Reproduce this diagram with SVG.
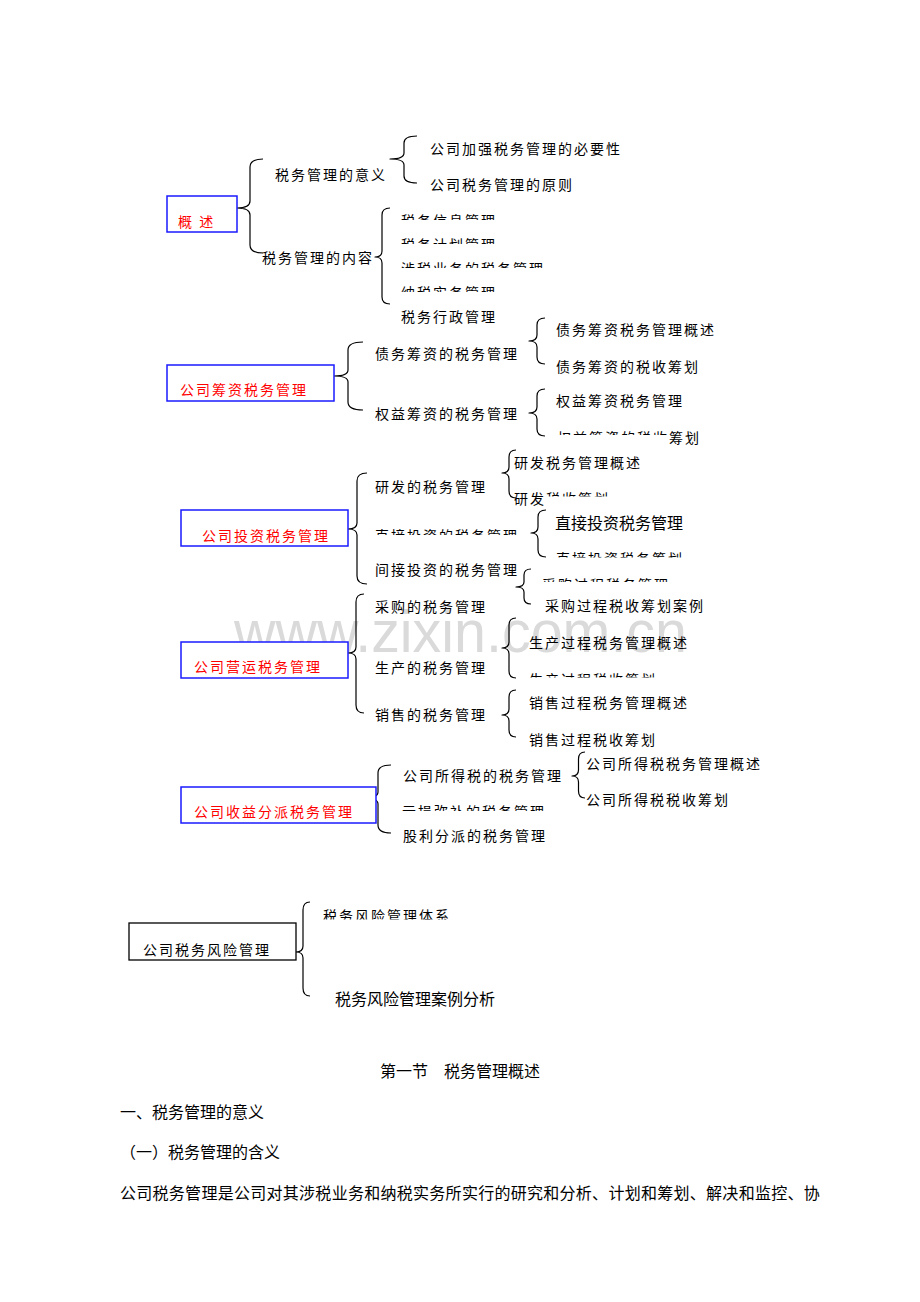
<svg xmlns="http://www.w3.org/2000/svg" width="920" height="1302" viewBox="0 0 920 1302">
<style>
.t{font-family:"Noto Sans CJK SC","Noto Sans CJK JP",sans-serif;font-size:14px;letter-spacing:2px;fill:#000}
.r{fill:#ff0000}
.big{font-size:16px;letter-spacing:0}
.p{font-family:"Noto Sans CJK SC","Noto Sans CJK JP",sans-serif;font-size:16px;letter-spacing:0.28px;fill:#000}
.box{fill:#fff;stroke:#1a1aff;stroke-width:1.5}
.kbox{fill:#fff;stroke:#000;stroke-width:1.3}
.brace{fill:none;stroke:#000;stroke-width:1.2;stroke-linejoin:round}
.wm{font-family:"Liberation Sans",Arial,sans-serif;font-size:60px;fill:#dadada}
</style>
<defs>
<clipPath id="c1"><rect x="390" y="200" width="200" height="20"/></clipPath>
<clipPath id="c2"><rect x="390" y="225" width="200" height="19"/></clipPath>
<clipPath id="c3"><rect x="390" y="250" width="200" height="18"/></clipPath>
<clipPath id="c4"><rect x="390" y="275" width="200" height="17"/></clipPath>
<clipPath id="c5"><rect x="550" y="420" width="200" height="15"/><rect x="667" y="420" width="60" height="40"/></clipPath>
<clipPath id="c6"><rect x="505" y="480" width="200" height="16.5"/><rect x="505" y="480" width="41" height="40"/></clipPath>
<clipPath id="c7"><rect x="370" y="520" width="200" height="15"/></clipPath>
<clipPath id="c8"><rect x="550" y="545" width="200" height="12.5"/></clipPath>
<clipPath id="c9"><rect x="535" y="570" width="200" height="12"/></clipPath>
<clipPath id="c10"><rect x="520" y="665" width="200" height="12.5"/></clipPath>
<clipPath id="c11"><rect x="395" y="795" width="200" height="16"/></clipPath>
<clipPath id="c12"><rect x="315" y="900" width="200" height="19.5"/></clipPath>
</defs>
<rect x="0" y="0" width="920" height="1302" fill="#fff"/>
<text class="wm" x="234" y="652" textLength="453" lengthAdjust="spacingAndGlyphs">www.zixin.com.cn</text>

<g id="connectors">
<path class="brace" d="M263,159 Q250,159 250,167 L250,201 Q250,208 237,208 Q250,208 250,215 L250,245 Q250,253 263,253"/>
<path class="brace" d="M417,136 Q404,136 404,143 L404,153 Q404,159 390,159 Q404,159 404,165 L404,176 Q404,183 417,183"/>
<path class="brace" d="M390,208 Q382,208 382,215 L382,251 Q382,257 375,257 Q382,257 382,263 L382,297 Q382,304 390,304"/>
<path class="brace" d="M363,342 Q348,342 348,350 L348,370 Q348,376 334,376 Q348,376 348,382 L348,402 Q348,410 363,410"/>
<path class="brace" d="M545,318 Q537,318 537,325 L537,335 Q537,341 529,341 Q537,341 537,347 L537,357 Q537,364 545,364"/>
<path class="brace" d="M545,389 Q537,389 537,396 L537,407 Q537,413 529,413 Q537,413 537,419 L537,429 Q537,436 545,436"/>
<path class="brace" d="M367,473 Q357,473 357,481 L357,523 Q357,529 348,529 Q357,529 357,535 L357,576 Q357,584 367,584"/>
<path class="brace" d="M516,450 Q509,450 509,457 L509,467 Q509,473 502,473 Q509,473 509,479 L509,491 Q509,498 516,498"/>
<path class="brace" d="M546,510 Q538,510 538,517 L538,527 Q538,533 531,533 Q538,533 538,539 L538,550 Q538,557 546,557"/>
<path class="brace" d="M531,569 Q524,569 524,575 L524,582 Q524,587 516,587 Q524,587 524,592 L524,598 Q524,604 531,604"/>
<path class="brace" d="M364,594 Q356,594 356,602 L356,647 Q356,653 348,653 Q356,653 356,659 L356,705 Q356,713 364,713"/>
<path class="brace" d="M516,618 Q509,618 509,625 L509,642 Q509,648 502,648 Q509,648 509,654 L509,671 Q509,678 516,678"/>
<path class="brace" d="M516,690 Q509,690 509,697 L509,709 Q509,715 502,715 Q509,715 509,721 L509,730 Q509,737 516,737"/>
<path class="brace" d="M391,765 Q378,765 378,773 L378,792 Q378,798 364,798 Q378,798 378,804 L378,825 Q378,833 391,833"/>
<path class="brace" d="M585,752 Q578.5,752 578.5,759 L578.5,770 Q578.5,776 572,776 Q578.5,776 578.5,782 L578.5,791 Q578.5,798 585,798"/>
<path class="brace" d="M310,902 Q303,902 303,910 L303,946 Q303,952 296,952 Q303,952 303,958 L303,988 Q303,996 310,996"/>
</g>

<g id="n-gaishu"><rect class="box" x="167" y="196" width="70" height="36"/><text class="t r" x="178" y="227">概 述</text></g>
<g id="n-yiyi"><text class="t" x="275" y="180">税务管理的意义</text></g>
<g id="n-neirong"><text class="t" x="262" y="263">税务管理的内容</text></g>
<g id="n-biyao"><text class="t" x="430" y="154">公司加强税务管理的必要性</text></g>
<g id="n-yuanze"><text class="t" x="430" y="190">公司税务管理的原则</text></g>
<g id="n-xinxi"><text class="t" x="401" y="226" clip-path="url(#c1)">税务信息管理</text></g>
<g id="n-jihua"><text class="t" x="401" y="250" clip-path="url(#c2)">税务计划管理</text></g>
<g id="n-sheshui"><text class="t" x="401" y="274" clip-path="url(#c3)">涉税业务的税务管理</text></g>
<g id="n-nashui"><text class="t" x="401" y="298" clip-path="url(#c4)">纳税实务管理</text></g>
<g id="n-xingzheng"><text class="t" x="401" y="322">税务行政管理</text></g>

<g id="n-chouzi"><rect class="box" x="167" y="365" width="167" height="36"/><text class="t r" x="180" y="395">公司筹资税务管理</text></g>
<g id="n-zhaiwu"><text class="t" x="375" y="359">债务筹资的税务管理</text></g>
<g id="n-quanyi"><text class="t" x="375" y="419">权益筹资的税务管理</text></g>
<g id="n-zw1"><text class="t" x="556" y="335">债务筹资税务管理概述</text></g>
<g id="n-zw2"><text class="t" x="556" y="372">债务筹资的税收筹划</text></g>
<g id="n-qy1"><text class="t" x="556" y="406">权益筹资税务管理</text></g>
<g id="n-qy2"><text class="t" x="557" y="443" clip-path="url(#c5)">权益筹资的税收筹划</text></g>

<g id="n-touzi"><rect class="box" x="181" y="510" width="167" height="36"/><text class="t r" x="202" y="541">公司投资税务管理</text></g>
<g id="n-yanfa"><text class="t" x="375" y="492">研发的税务管理</text></g>
<g id="n-zhijie"><text class="t" x="375" y="541" clip-path="url(#c7)">直接投资的税务管理</text></g>
<g id="n-jianjie"><text class="t" x="375" y="575">间接投资的税务管理</text></g>
<g id="n-yf1"><text class="t" x="514" y="468">研发税务管理概述</text></g>
<g id="n-yf2"><text class="t" x="514" y="503.5" clip-path="url(#c6)">研发税收筹划</text></g>
<g id="n-zj1"><text class="t big" x="555" y="529">直接投资税务管理</text></g>
<g id="n-zj2"><text class="t" x="556" y="564" clip-path="url(#c8)">直接投资税务筹划</text></g>
<g id="n-jj1"><text class="t" x="542" y="590" clip-path="url(#c9)">采购过程税务管理</text></g>
<g id="n-jj2"><text class="t" x="545" y="611">采购过程税收筹划案例</text></g>

<g id="n-yingyun"><rect class="box" x="181" y="642" width="167" height="36"/><text class="t r" x="194" y="672">公司营运税务管理</text></g>
<g id="n-caigou"><text class="t" x="375" y="612">采购的税务管理</text></g>
<g id="n-shengchan"><text class="t" x="375" y="673">生产的税务管理</text></g>
<g id="n-xiaoshou"><text class="t" x="375" y="720">销售的税务管理</text></g>
<g id="n-sc1"><text class="t" x="529" y="648">生产过程税务管理概述</text></g>
<g id="n-sc2"><text class="t" x="529" y="685" clip-path="url(#c10)">生产过程税收筹划</text></g>
<g id="n-xs1"><text class="t" x="529" y="708">销售过程税务管理概述</text></g>
<g id="n-xs2"><text class="t" x="529" y="745">销售过程税收筹划</text></g>

<g id="n-shouyi"><rect class="box" x="181" y="787" width="195" height="36"/><text class="t r" x="194" y="817">公司收益分派税务管理</text></g>
<g id="n-suodeshui"><text class="t" x="403" y="781">公司所得税的税务管理</text></g>
<g id="n-kuisun"><text class="t" x="402" y="817" clip-path="url(#c11)">亏损弥补的税务管理</text></g>
<g id="n-guli"><text class="t" x="403" y="841">股利分派的税务管理</text></g>
<g id="n-sd1"><text class="t" x="586" y="769">公司所得税税务管理概述</text></g>
<g id="n-sd2"><text class="t" x="586" y="805">公司所得税税收筹划</text></g>

<g id="n-fengxian"><rect class="kbox" x="129" y="923" width="167" height="37"/><text class="t" x="143" y="955">公司税务风险管理</text></g>
<g id="n-fx1"><text class="t" x="323" y="921" clip-path="url(#c12)">税务风险管理体系</text></g>
<g id="n-fx2"><text class="t big" x="335" y="1005">税务风险管理案例分析</text></g>

<g id="body">
<text class="p" x="380" y="1077" style="letter-spacing:0">第一节　税务管理概述</text>
<text class="p" x="120" y="1118" style="letter-spacing:0">一、税务管理的意义</text>
<text class="p" x="120" y="1158" style="letter-spacing:0">（一）税务管理的含义</text>
<text class="p" x="120" y="1199">公司税务管理是公司对其涉税业务和纳税实务所实行的研究和分析、计划和筹划、解决和监控、协</text>
</g>
</svg>
